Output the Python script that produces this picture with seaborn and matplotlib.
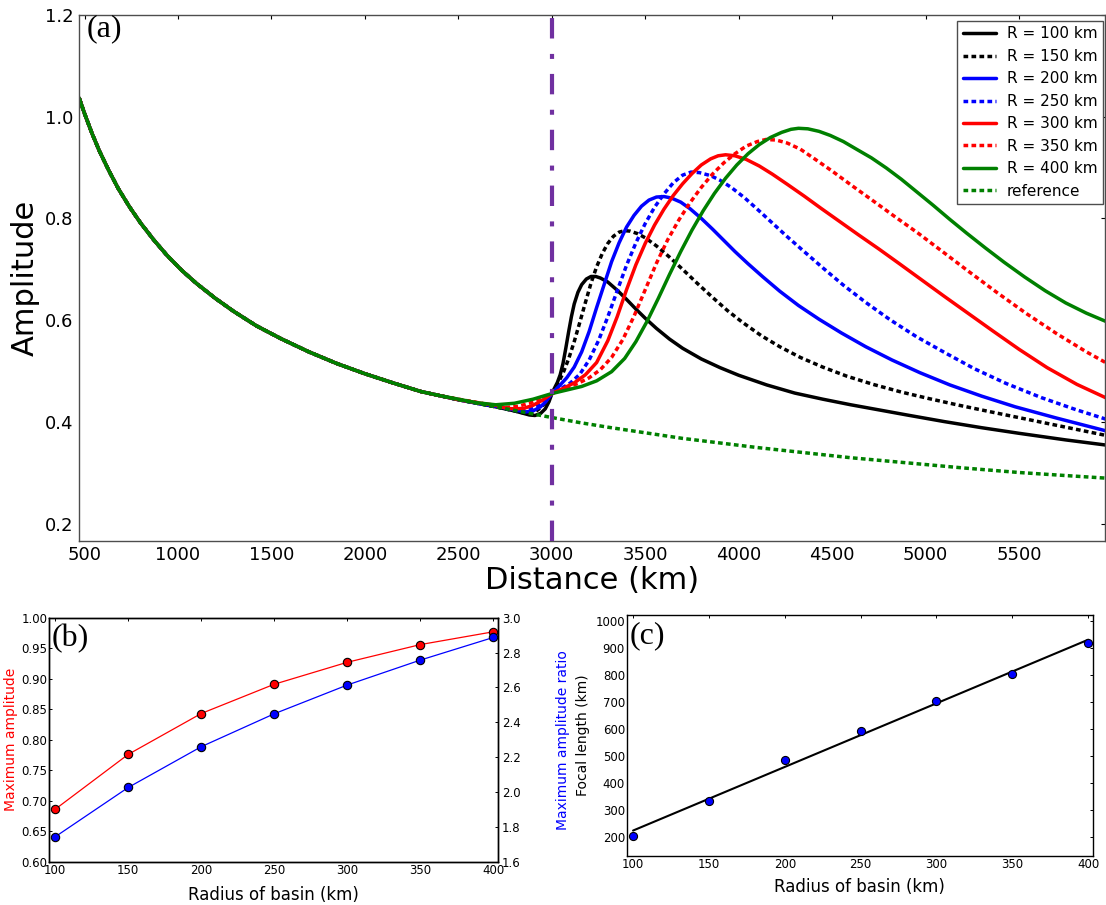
import matplotlib
matplotlib.use("Agg")
import matplotlib.pyplot as plt
from matplotlib.ticker import FormatStrFormatter, MultipleLocator
import seaborn as sns

# ---------------- Panel (a) data: amplitude vs distance ----------------
# shared part of every curve (before the basin)
common_dist = [472, 500, 540, 580, 630, 680, 740, 800, 870, 940, 1020, 1100, 1200, 1300, 1420, 1550,
               1700, 1850, 2000, 2150, 2300, 2400]
common_amp = [1.036, 1.006, 0.967, 0.932, 0.894, 0.859, 0.823, 0.791, 0.758, 0.728, 0.698, 0.672, 0.643,
              0.617, 0.589, 0.564, 0.538, 0.515, 0.495, 0.477, 0.460, 0.452]

r100_dist = [2500, 2600, 2700, 2800, 2880, 2910, 2940, 2965, 2985, 3000, 3015, 3030, 3045, 3060, 3075, 3090,
             3105, 3120, 3140, 3160, 3185, 3210, 3235, 3260, 3300, 3350, 3400, 3450, 3500, 3560, 3630, 3700,
             3800, 3900, 4000, 4150, 4300, 4450, 4600, 4750, 4900, 5100, 5300, 5500, 5750, 5963]
r100_amp = [0.444, 0.437, 0.430, 0.422, 0.414, 0.413, 0.417, 0.426, 0.440, 0.455, 0.467, 0.478, 0.493, 0.515,
            0.545, 0.577, 0.607, 0.632, 0.655, 0.670, 0.681, 0.686, 0.686, 0.683, 0.675, 0.659, 0.641, 0.622,
            0.604, 0.584, 0.563, 0.545, 0.524, 0.507, 0.492, 0.473, 0.457, 0.445, 0.434, 0.424, 0.414, 0.401,
            0.389, 0.378, 0.365, 0.355]

r150_dist = [2500, 2600, 2700, 2800, 2850, 2880, 2910, 2940, 2970, 3000, 3030, 3060, 3090, 3120, 3150, 3180,
             3210, 3240, 3270, 3300, 3330, 3360, 3390, 3420, 3460, 3500, 3560, 3630, 3700, 3780, 3860, 3940,
             4020, 4120, 4220, 4330, 4450, 4580, 4720, 4870, 5020, 5180, 5350, 5550, 5750, 5963]
r150_amp = [0.444, 0.437, 0.430, 0.422, 0.418, 0.417, 0.420, 0.428, 0.440, 0.456, 0.474, 0.496, 0.524, 0.558,
            0.596, 0.635, 0.673, 0.705, 0.731, 0.751, 0.765, 0.773, 0.776, 0.775, 0.770, 0.762, 0.746, 0.724,
            0.700, 0.672, 0.645, 0.619, 0.596, 0.570, 0.548, 0.527, 0.508, 0.490, 0.474, 0.459, 0.446, 0.433,
            0.420, 0.405, 0.390, 0.374]

r200_dist = [2500, 2600, 2700, 2800, 2860, 2900, 2940, 2970, 3000, 3040, 3080, 3120, 3160, 3200, 3240, 3280,
             3320, 3360, 3400, 3440, 3480, 3520, 3560, 3600, 3640, 3690, 3740, 3800, 3860, 3920, 3980, 4050,
             4130, 4220, 4320, 4430, 4550, 4680, 4820, 4970, 5130, 5300, 5480, 5700, 5963]
r200_amp = [0.444, 0.437, 0.431, 0.424, 0.420, 0.422, 0.430, 0.441, 0.456, 0.471, 0.487, 0.508, 0.538, 0.578,
            0.625, 0.670, 0.715, 0.752, 0.783, 0.806, 0.824, 0.836, 0.842, 0.843, 0.840, 0.832, 0.819, 0.800,
            0.779, 0.757, 0.735, 0.711, 0.685, 0.657, 0.629, 0.602, 0.575, 0.548, 0.522, 0.497, 0.473, 0.451,
            0.430, 0.408, 0.383]

r250_dist = [2500, 2600, 2700, 2780, 2830, 2880, 2930, 2970, 3000, 3050, 3100, 3150, 3200, 3250, 3300, 3350,
             3400, 3450, 3500, 3550, 3600, 3650, 3700, 3745, 3790, 3850, 3900, 3960, 4030, 4100, 4180, 4260,
             4350, 4450, 4560, 4680, 4810, 4950, 5100, 5260, 5430, 5620, 5800, 5963]
r250_amp = [0.444, 0.438, 0.432, 0.424, 0.422, 0.425, 0.434, 0.445, 0.456, 0.466, 0.477, 0.494, 0.522, 0.560,
            0.607, 0.658, 0.708, 0.752, 0.790, 0.822, 0.848, 0.870, 0.885, 0.891, 0.890, 0.884, 0.875, 0.861,
            0.841, 0.818, 0.791, 0.764, 0.735, 0.703, 0.669, 0.635, 0.601, 0.568, 0.537, 0.505, 0.476, 0.448,
            0.425, 0.406]

r300_dist = [2500, 2600, 2700, 2760, 2800, 2850, 2900, 2950, 3000, 3060, 3120, 3180, 3240, 3300, 3350, 3400,
             3450, 3500, 3550, 3600, 3650, 3700, 3750, 3800, 3850, 3890, 3930, 3980, 4040, 4110, 4180, 4260,
             4350, 4440, 4540, 4640, 4750, 4860, 4980, 5100, 5230, 5360, 5500, 5650, 5810, 5963]
r300_amp = [0.444, 0.438, 0.433, 0.427, 0.426, 0.427, 0.433, 0.443, 0.456, 0.466, 0.477, 0.493, 0.517, 0.560,
            0.607, 0.660, 0.709, 0.751, 0.787, 0.818, 0.845, 0.868, 0.888, 0.905, 0.917, 0.923, 0.925, 0.923,
            0.916, 0.903, 0.887, 0.867, 0.844, 0.820, 0.794, 0.768, 0.740, 0.711, 0.679, 0.647, 0.613, 0.579,
            0.543, 0.507, 0.474, 0.448]

r350_dist = [2500, 2580, 2650, 2720, 2760, 2820, 2880, 2940, 3000, 3070, 3140, 3200, 3260, 3320, 3380, 3440,
             3500, 3560, 3620, 3680, 3740, 3800, 3860, 3920, 3980, 4040, 4100, 4145, 4200, 4260, 4330, 4410,
             4500, 4600, 4710, 4830, 4960, 5090, 5230, 5380, 5540, 5700, 5860, 5963]
r350_amp = [0.445, 0.440, 0.435, 0.430, 0.429, 0.431, 0.437, 0.446, 0.456, 0.466, 0.476, 0.487, 0.503, 0.527,
            0.562, 0.608, 0.660, 0.712, 0.758, 0.797, 0.831, 0.861, 0.887, 0.909, 0.927, 0.942, 0.951, 0.955,
            0.954, 0.948, 0.936, 0.916, 0.893, 0.866, 0.837, 0.805, 0.771, 0.735, 0.696, 0.655, 0.613, 0.574,
            0.538, 0.517]

r400_dist = [2500, 2600, 2700, 2800, 2900, 3000, 3080, 3160, 3240, 3320, 3390, 3450, 3510, 3570, 3630, 3690,
             3750, 3810, 3870, 3930, 3990, 4050, 4110, 4170, 4230, 4280, 4320, 4370, 4430, 4490, 4560, 4630,
             4710, 4790, 4870, 4950, 5040, 5130, 5220, 5320, 5420, 5530, 5640, 5750, 5860, 5963]
r400_amp = [0.445, 0.438, 0.434, 0.437, 0.445, 0.456, 0.463, 0.470, 0.481, 0.499, 0.525, 0.558, 0.598, 0.643,
            0.690, 0.735, 0.777, 0.815, 0.849, 0.879, 0.905, 0.927, 0.945, 0.959, 0.969, 0.975, 0.977, 0.976,
            0.971, 0.963, 0.951, 0.936, 0.919, 0.899, 0.877, 0.853, 0.826, 0.798, 0.771, 0.742, 0.714, 0.685,
            0.658, 0.634, 0.614, 0.598]

ref_dist = [2500, 2600, 2700, 2800, 2900, 3000, 3150, 3300, 3500, 3700, 3900, 4100, 4350, 4600, 4900, 5200,
            5500, 5750, 5963]
ref_amp = [0.444, 0.437, 0.430, 0.423, 0.416, 0.409, 0.399, 0.390, 0.379, 0.368, 0.359, 0.350, 0.340, 0.330,
           0.320, 0.310, 0.301, 0.295, 0.290]

series_labels = ["R = 100 km", "R = 150 km", "R = 200 km", "R = 250 km",
                 "R = 300 km", "R = 350 km", "R = 400 km", "reference"]
boundary_km = 3000
dist_ticks = [500, 1000, 1500, 2000, 2500, 3000, 3500, 4000, 4500, 5000, 5500]
amp_ticks = [0.2, 0.4, 0.6, 0.8, 1.0, 1.2]

# ---------------- Panels (b) and (c) data ----------------
radius_km = [100, 150, 200, 250, 300, 350, 400]
max_amplitude = [0.686, 0.776, 0.843, 0.891, 0.927, 0.956, 0.977]
max_amplitude_ratio = [1.743, 2.026, 2.260, 2.449, 2.614, 2.757, 2.887]
focal_length_km = [203, 333, 483, 591, 702, 804, 916]

# ---------------- style ----------------
sns.set_theme(style="white")
plt.rcParams['font.family'] = ['DejaVu Sans']
plt.rcParams.update({
    'text.color': 'black', 'axes.labelcolor': 'black',
    'xtick.color': 'black', 'ytick.color': 'black',
    'axes.edgecolor': 'black', 'axes.linewidth': 1.0,
    'xtick.direction': 'in', 'ytick.direction': 'in',
})

fig = plt.figure(figsize=(11.06, 9.05), dpi=100)

# ---------------- Panel (a) ----------------
ax = fig.add_axes([0.0717, 0.4025, 0.9274, 0.5812])
dotted = (0, (1.35, 0.95))
curves = [
    (r100_dist, r100_amp, "black", "-"),
    (r150_dist, r150_amp, "black", dotted),
    (r200_dist, r200_amp, "#0000ff", "-"),
    (r250_dist, r250_amp, "#0000ff", dotted),
    (r300_dist, r300_amp, "#ff0000", "-"),
    (r350_dist, r350_amp, "#ff0000", dotted),
    (r400_dist, r400_amp, "#008000", "-"),
    (ref_dist, ref_amp, "#008000", dotted),
]
for (d, a, c, ls), lab in zip(curves, series_labels):
    sns.lineplot(x=common_dist + d, y=common_amp + a, ax=ax, color=c, linestyle=ls,
                 lw=2.5, label=lab, estimator=None, legend=False)

ax.axvline(boundary_km, color="#7030a0", lw=3, linestyle=(0, (4.9, 3.6, 1.2, 3.7)), zorder=5)

ax.set_xlim(472, 5960)
ax.set_ylim(0.167, 1.2)
ax.set_xticks(dist_ticks)
ax.set_yticks(amp_ticks)
ax.yaxis.set_major_formatter(FormatStrFormatter('%.1f'))
ax.tick_params(axis='both', labelsize=13, direction='in', length=3, width=0.8,
               top=True, right=True, pad=4)
for sp in ax.spines.values():
    sp.set_color('0.3')
ax.set_xlabel("Distance (km)", fontsize=22)
ax.set_ylabel("Amplitude", fontsize=22)
ax.xaxis.set_label_coords(0.5, -0.048)
ax.yaxis.set_label_coords(-0.039, 0.5)

leg = ax.legend(loc='upper right', bbox_to_anchor=(0.998, 0.988), borderaxespad=0,
                prop={'size': 11}, frameon=True, fancybox=False, edgecolor='0.3',
                framealpha=1, handlelength=2.2, handletextpad=0.7,
                labelspacing=0.49, borderpad=0.35)
leg.get_frame().set_linewidth(1.0)

ax.text(0.0075, 0.9586, "(a)", transform=ax.transAxes, ha='left', va='baseline',
        fontsize=23, family='Liberation Serif')

# ---------------- Panel (b) ----------------
axb = fig.add_axes([0.0446, 0.0478, 0.4054, 0.2696])
sns.lineplot(x=radius_km, y=max_amplitude, ax=axb, color='#ff0000', lw=0.9,
             marker='o', markersize=6, markerfacecolor='#ff0000',
             markeredgecolor='black', markeredgewidth=0.8, estimator=None, legend=False)
axb2 = axb.twinx()
sns.lineplot(x=radius_km, y=max_amplitude_ratio, ax=axb2, color='#0000ff', lw=0.9,
             marker='o', markersize=6, markerfacecolor='#0000ff',
             markeredgecolor='black', markeredgewidth=0.8, estimator=None, legend=False)
axb.set_xlim(96, 403)
axb.set_ylim(0.60, 1.00)
axb2.set_ylim(1.6, 3.0)
axb.set_xticks(radius_km)
axb.yaxis.set_major_locator(MultipleLocator(0.05))
axb.yaxis.set_major_formatter(FormatStrFormatter('%.2f'))
axb2.yaxis.set_major_locator(MultipleLocator(0.2))
axb2.yaxis.set_major_formatter(FormatStrFormatter('%.1f'))
axb.tick_params(axis='both', labelsize=8.5, direction='in', length=2.5, width=0.7,
                top=True, right=False, pad=1.5)
axb2.tick_params(axis='y', labelsize=8.5, direction='in', length=2.5, width=0.7, pad=3)
axb.set_xlabel("Radius of basin (km)", fontsize=12)
axb.set_ylabel("Maximum amplitude", fontsize=10, color='#ff0000')
axb2.set_ylabel("Maximum amplitude ratio", fontsize=10, color='#0000ff')
axb.xaxis.set_label_coords(0.5, -0.0996)
axb.yaxis.set_label_coords(-0.069, 0.5)
axb2.yaxis.set_label_coords(1.13, 0.5)
axb.text(0.005, 0.884, "(b)", transform=axb.transAxes, ha='left', va='baseline',
         fontsize=23, family='Liberation Serif')

# ---------------- Panel (c) ----------------
axc = fig.add_axes([0.5669, 0.0541, 0.4211, 0.2663])
sns.regplot(x=radius_km, y=focal_length_km, ax=axc, ci=None, truncate=True,
            scatter_kws=dict(s=34, color='#0000ff', edgecolors='black', linewidths=0.8,
                             alpha=1, zorder=3),
            line_kws=dict(color='black', lw=1.5, zorder=2))
axc.set_xlim(96, 403)
axc.set_ylim(128, 1021)
axc.set_xticks(radius_km)
axc.set_yticks([200, 300, 400, 500, 600, 700, 800, 900, 1000])
axc.tick_params(axis='both', labelsize=8.5, direction='in', length=2.5, width=0.7,
                top=True, right=True, pad=1.5)
axc.set_xlabel("Radius of basin (km)", fontsize=12)
axc.set_ylabel("Focal length (km)", fontsize=10)
axc.xaxis.set_label_coords(0.5, -0.091)
axc.yaxis.set_label_coords(-0.080, 0.5)
axc.text(0.0064, 0.883, "(c)", transform=axc.transAxes, ha='left', va='baseline',
         fontsize=23, family='Liberation Serif')

fig.savefig("out.png", dpi=100)
